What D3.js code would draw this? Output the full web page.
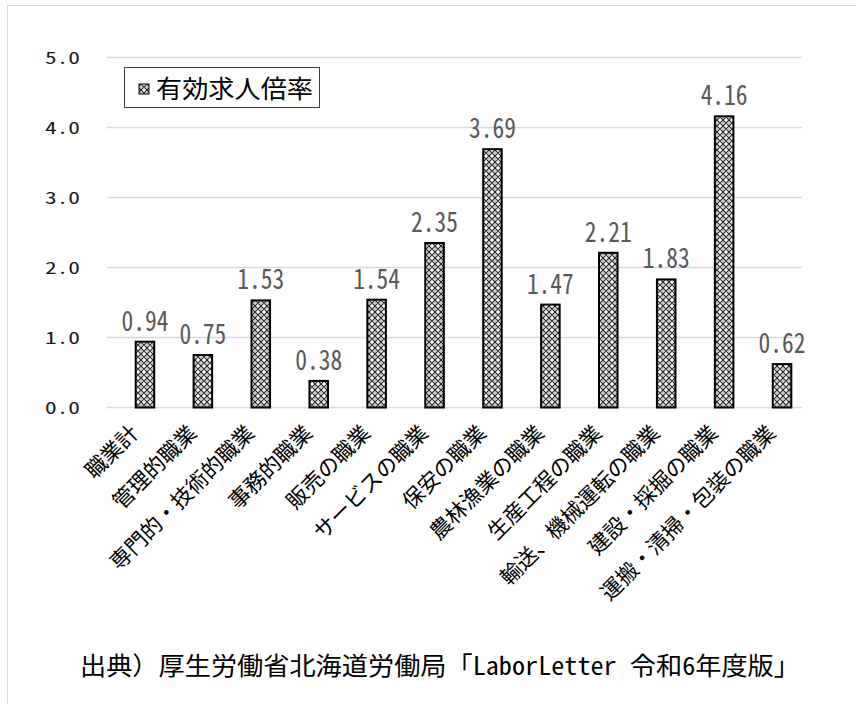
<!DOCTYPE html>
<html>
<head>
<meta charset="utf-8">
<script src="https://cdn.jsdelivr.net/npm/d3@7"></script>
<style>
  html, body { margin: 0; padding: 0; background: #fff; }
  svg { display: block; }
  .hw { font-feature-settings: "hwid" 1; }
</style>
</head>
<body>
<svg id="chart" width="856" height="704"></svg>
<script>
// Job-opening ratio by occupation (Hokkaido)
const categories = [
  "職業計", "管理的職業", "専門的・技術的職業", "事務的職業", "販売の職業",
  "サービスの職業", "保安の職業", "農林漁業の職業", "生産工程の職業",
  "輸送、機械運転の職業", "建設・採掘の職業", "運搬・清掃・包装の職業"
];
const ratios = [0.94, 0.75, 1.53, 0.38, 1.54, 2.35, 3.69, 1.47, 2.21, 1.83, 4.16, 0.62];
const yTicks = [0, 1, 2, 3, 4, 5];
const seriesName = "有効求人倍率";
// source line: wide (CJK) runs and half-width (Latin/digit) runs
const sourceRuns = [
  ["出典）厚生労働省北海道労働局「", false],
  ["LaborLetter ", true],
  ["令和", false],
  ["6", true],
  ["年度版」", false]
];

const svg = d3.select("#chart");
const jpFont = "'Noto Sans CJK JP', 'Noto Sans', sans-serif";

// outer frame
svg.append("rect")
  .attr("x", 7.5).attr("y", 5.5)
  .attr("width", 900).attr("height", 760)
  .attr("fill", "#fff").attr("stroke", "#d9d9d9").attr("stroke-width", 1);

// bar fill pattern (dotted diamond)
const defs = svg.append("defs");
const pat = defs.append("pattern")
  .attr("id", "dots").attr("patternUnits", "userSpaceOnUse")
  .attr("width", 6).attr("height", 6);
pat.append("rect").attr("width", 6).attr("height", 6).attr("fill", "#fff");
pat.append("path").attr("d", "M0,3 L3,0 L6,3 L3,6 Z")
  .attr("fill", "none").attr("stroke", "#2a2a2a").attr("stroke-width", 1.2);
pat.append("rect").attr("x", 2.4).attr("y", 2.4).attr("width", 1.2).attr("height", 1.2).attr("fill", "#666");

const plotLeft = 107, plotRight = 802;
const y = d3.scaleLinear().domain([0, 5]).range([407.5, 57.5]);
const x = d3.scaleBand().domain(categories).range([116, 811]).paddingInner(0.68).paddingOuter(0.34);

// gridlines
svg.append("g").selectAll("line").data(yTicks).join("line")
  .attr("x1", plotLeft).attr("x2", plotRight)
  .attr("y1", d => y(d)).attr("y2", d => y(d))
  .attr("stroke", "#d9d9d9").attr("stroke-width", 1.3);

// y axis tick labels (half-width digits)
const yAxis = d3.axisLeft(y).tickValues(yTicks).tickFormat(d3.format(".1f")).tickSize(0).tickPadding(0);
const gy = svg.append("g").attr("transform", "translate(80,0)").call(yAxis);
gy.select(".domain").remove();
gy.selectAll("text")
  .attr("class", "hw")
  .attr("font-family", jpFont).attr("font-size", 17)
  .attr("fill", "#1a1a1a").attr("dy", "0.36em")
  .attr("textLength", 35).attr("lengthAdjust", "spacingAndGlyphs");

// bars
svg.append("g").selectAll("rect").data(categories).join("rect")
  .attr("x", d => x(d))
  .attr("width", x.bandwidth())
  .attr("y", (d, i) => y(ratios[i]))
  .attr("height", (d, i) => y(0) - y(ratios[i]))
  .attr("fill", "url(#dots)")
  .attr("stroke", "#000").attr("stroke-width", 2);

// value labels
svg.append("g").selectAll("text").data(categories).join("text")
  .attr("class", "hw")
  .attr("x", d => x(d) + x.bandwidth() / 2)
  .attr("y", (d, i) => y(ratios[i]) - 11)
  .attr("text-anchor", "middle")
  .attr("font-family", jpFont).attr("font-size", 28)
  .attr("fill", "#595959")
  .attr("textLength", 47).attr("lengthAdjust", "spacingAndGlyphs")
  .text((d, i) => ratios[i].toFixed(2));

// category labels, rotated
svg.append("g").selectAll("text").data(categories).join("text")
  .attr("transform", d => `translate(${x(d) + x.bandwidth() / 2 - 5},${y(0) + 27}) rotate(-45)`)
  .attr("text-anchor", "end")
  .attr("font-family", jpFont).attr("font-size", 21.5)
  .attr("fill", "#000")
  .text(d => d);

// legend
const lg = svg.append("g");
lg.append("rect").attr("x", 124.5).attr("y", 67.5).attr("width", 195).attr("height", 40)
  .attr("fill", "#fff").attr("stroke", "#404040").attr("stroke-width", 1);
lg.append("rect").attr("x", 139).attr("y", 84).attr("width", 10).attr("height", 10)
  .attr("fill", "url(#dots)").attr("stroke", "#000").attr("stroke-width", 1);
lg.append("text").attr("x", 156).attr("y", 98)
  .attr("font-family", jpFont).attr("font-size", 25).attr("fill", "#000")
  .attr("textLength", 157).attr("lengthAdjust", "spacingAndGlyphs")
  .text(seriesName);

// source line
const src = svg.append("text").attr("x", 80).attr("y", 675)
  .attr("font-family", jpFont).attr("font-size", 25).attr("fill", "#000")
  .attr("textLength", 720).attr("lengthAdjust", "spacingAndGlyphs");
src.selectAll("tspan").data(sourceRuns).join("tspan")
  .attr("class", d => d[1] ? "hw" : null)
  .text(d => d[0]);
</script>
</body>
</html>
